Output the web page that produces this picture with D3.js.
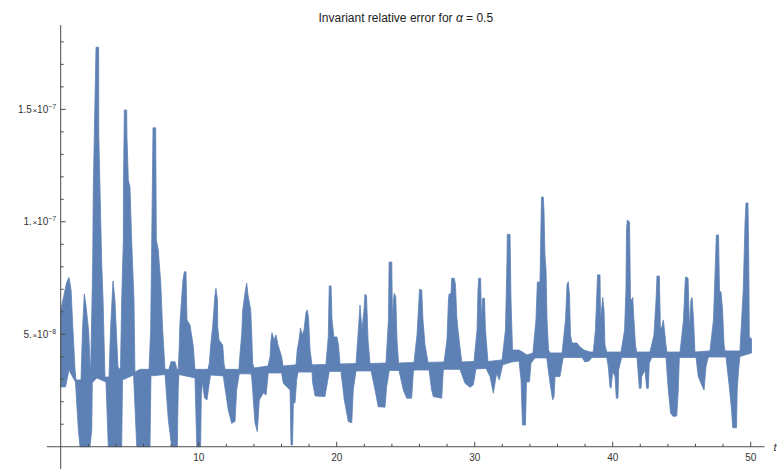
<!DOCTYPE html>
<html>
<head>
<meta charset="utf-8">
<script src="https://cdn.jsdelivr.net/npm/d3@7"></script>
<style>
  body { margin: 0; background: #fff; }
  text { font-family: "Liberation Sans", Arial, sans-serif; }
</style>
</head>
<body>
<svg id="chart" width="777" height="469"></svg>
<script>
// values in units of 1e-8: [t, value]
const unit = 1e-8;

// top edge of the oscillating trace
const upperEdge = [
  [0,6.08],[0.24,6.75],[0.42,7.28],[0.60,7.53],[0.75,6.97],[0.89,5.19],[1.04,3.41],[1.11,2.97],
  [1.47,2.97],[1.58,5.19],[1.71,6.79],[1.83,6.30],[2.03,5.10],[2.16,3.10],
  [2.27,6.52],[2.32,8.17],[2.36,11.41],[2.43,13.64],[2.51,16.18],[2.56,17.76],[2.75,17.76],[2.76,13.81],
  [2.85,11.41],[2.90,10.08],[2.97,8.17],[3.07,6.52],[3.14,4.75],[3.21,3.10],
  [3.50,3.10],[3.61,5.19],[3.79,7.37],[3.93,6.52],[4.15,3.55],
  [4.33,3.41],[4.42,6.52],[4.54,9.19],[4.55,11.55],[4.59,13.81],[4.61,14.97],[4.78,14.97],[4.80,13.81],
  [4.90,11.86],[5.02,11.55],[5.14,9.19],[5.31,6.52],[5.38,3.32],
  [5.75,3.44],[6.40,3.44],[6.52,5.19],[6.56,7.28],[6.59,8.75],[6.69,14.18],[6.88,14.18],[6.93,9.19],
  [7.07,8.75],[7.25,7.28],[7.39,5.19],[7.56,3.44],
  [7.85,3.44],[7.99,3.78],[8.28,3.78],[8.43,3.44],
  [8.52,3.44],[8.59,4.45],[8.64,5.49],[8.86,7.41],[8.96,7.78],[9.08,7.78],[9.15,5.64],[9.37,5.41],
  [9.61,4.45],[9.73,3.44],
  [10.67,3.44],[10.77,3.71],[10.87,4.52],[11.01,5.34],[11.18,6.75],[11.25,7.04],[11.36,6.52],[11.38,5.34],
  [11.47,4.75],[11.74,4.52],[11.83,3.71],[11.91,3.44],
  [12.92,3.44],[12.94,3.71],[13.12,5.04],[13.19,6.08],[13.39,6.97],[13.48,7.27],[13.57,6.75],[13.77,6.08],
  [13.84,5.04],[13.91,3.71],[14.01,3.50],
  [15.02,3.59],[15.17,4.00],[15.24,4.75],[15.31,5.07],[15.46,4.75],[15.60,4.97],[15.75,4.52],[16.01,4.00],[16.11,3.59],
  [17.05,3.64],[17.14,4.30],[17.27,4.75],[17.38,5.28],[17.49,4.97],[17.63,5.19],[17.78,5.99],[17.87,6.08],
  [17.96,5.72],[18.07,4.30],[18.21,3.64],
  [19.22,3.66],[19.39,4.89],[19.46,7.15],[19.59,7.15],[19.66,5.64],[19.80,4.88],[20.02,4.88],[20.13,4.52],[20.24,3.68],
  [21.40,3.70],[21.62,5.64],[21.69,6.30],[21.83,5.19],[21.98,6.08],[22.05,6.79],[22.16,6.70],[22.27,4.75],[22.41,3.70],
  [23.57,3.72],[23.75,5.64],[23.80,8.21],[23.99,8.21],[24.04,5.64],[24.12,6.52],[24.17,6.82],[24.28,6.67],
  [24.37,4.75],[24.48,3.72],
  [25.60,3.75],[25.82,4.97],[25.96,6.52],[26.00,7.00],[26.16,6.97],[26.25,5.64],[26.40,4.52],[26.62,3.75],
  [27.78,3.77],[27.99,4.75],[28.10,6.52],[28.14,6.79],[28.28,6.79],[28.33,7.49],[28.52,7.49],[28.61,7.19],
  [28.70,5.78],[28.79,5.19],[29.06,3.77],
  [29.95,3.79],[30.17,5.19],[30.24,6.97],[30.29,7.49],[30.43,7.49],[30.49,5.64],[30.58,6.60],[30.71,6.60],
  [30.78,5.19],[30.96,3.79],
  [31.98,3.86],[32.23,5.19],[32.34,8.30],[32.36,9.44],[32.56,9.44],[32.63,6.52],[32.74,4.30],
  [33.21,4.30],[33.57,4.17],[33.79,4.08],[34.22,4.17],
  [34.44,5.64],[34.54,7.32],[34.73,7.32],[34.84,11.10],[34.97,11.10],[35.02,10.52],[35.09,8.52],[35.17,7.86],
  [35.24,5.64],[35.35,4.30],[35.46,4.17],
  [36.33,4.17],[36.58,5.64],[36.69,7.19],[36.78,7.34],[36.87,6.75],[36.94,4.97],[37.05,4.61],
  [37.41,4.61],[37.63,4.44],[37.92,4.30],[38.36,4.21],
  [38.59,4.21],[38.75,5.19],[38.86,6.97],[38.90,7.64],[39.08,7.64],[39.12,5.64],[39.19,6.08],[39.28,6.64],
  [39.37,6.08],[39.44,4.52],[39.57,4.21],
  [40.60,4.21],[40.86,5.19],[40.96,6.97],[41.00,9.64],[41.06,10.08],[41.22,9.99],[41.29,6.52],[41.36,6.52],
  [41.45,6.64],[41.54,5.64],[41.65,4.52],[41.74,4.21],
  [42.70,4.21],[42.99,4.97],[43.14,6.52],[43.21,7.59],[43.38,7.59],[43.46,5.19],[43.57,5.34],[43.67,5.64],
  [43.75,5.19],[43.86,4.52],[43.93,4.21],
  [44.88,4.21],[45.13,5.64],[45.24,7.19],[45.28,7.55],[45.46,7.50],[45.57,5.19],[45.67,6.52],[45.75,6.64],
  [45.86,5.64],[45.96,4.21],
  [47.05,4.26],[47.30,5.64],[47.45,8.30],[47.51,9.41],[47.67,9.41],[47.74,6.89],[47.85,6.89],[47.96,6.08],
  [48.07,4.52],[48.14,4.26],
  [49.22,4.26],[49.46,6.97],[49.59,9.95],[49.66,10.84],[49.80,10.84],[49.86,8.30],[49.90,4.89],[50.06,4.79]
];

// bottom edge of the oscillating trace
const lowerEdge = [
  [0,2.66],[0.35,2.66],[0.60,3.41],[1.07,2.88],[1.28,0.75],[1.40,0],[2.12,0],[2.25,0.75],[2.29,2.84],
  [2.61,3.06],[3.28,2.88],[3.45,0],[4.42,0],[4.48,2.97],[5.28,3.19],[5.51,0],[6.47,0],[6.54,3.15],
  [7.56,3.21],[7.80,1.19],[8.04,0],[8.45,0],[8.52,2.66],[8.57,3.21],[9.73,3.06],[9.86,0],[10.14,0],
  [10.19,2.30],[10.28,2.88],[10.42,2.17],[10.60,2.08],[10.75,2.75],[10.86,3.19],
  [11.78,3.15],[12.14,1.64],[12.39,1.04],[12.63,1.12],[12.75,2.52],[12.94,3.24],
  [13.79,3.24],[13.84,3.10],[14.08,1.06],[14.25,0.67],[14.39,2.08],[14.68,2.39],[14.88,2.30],[15.04,3.28],
  [16.01,3.28],[16.13,2.82],[16.38,2.67],[16.62,2.52],[16.69,0.08],[16.80,0.08],[16.86,1.95],[16.98,1.95],
  [17.10,2.97],[17.20,3.32],
  [18.21,3.32],[18.26,2.84],[18.43,2.26],[19.15,2.23],[19.32,2.84],[19.46,3.35],
  [20.31,3.35],[20.55,2.08],[20.84,1.12],[21.09,1.07],[21.20,2.52],[21.40,3.37],
  [22.49,3.37],[22.78,2.52],[23.01,1.78],[23.50,1.76],[23.62,2.67],[23.81,3.39],
  [24.51,3.39],[24.83,2.52],[25.07,2.16],[25.43,2.16],[25.55,3.28],[25.60,3.41],
  [26.69,3.41],[26.88,2.52],[27.00,2.23],[27.61,2.16],[27.72,3.37],[27.78,3.44],
  [28.93,3.44],[29.30,2.82],[29.66,2.64],[29.90,2.75],[30.09,3.46],
  [30.82,3.48],[31.11,3.12],[31.35,2.38],[31.59,3.27],[31.78,2.97],[32.03,3.64],
  [32.70,3.77],[33.21,3.81],[33.36,2.97],[33.46,0.97],[33.68,0.97],[33.75,2.88],[33.97,2.89],[34.08,3.72],[34.37,3.95],
  [35.22,3.95],[35.46,2.82],[35.65,2.08],[35.75,2.23],[35.82,3.12],[36.18,3.12],[36.38,3.86],[36.43,3.97],
  [37.78,3.97],[37.99,3.77],[38.28,3.81],[38.50,3.97],
  [39.57,3.97],[39.68,3.56],[39.80,2.67],[39.88,2.60],[40.00,3.34],[40.17,3.12],[40.26,2.16],[40.38,2.16],
  [40.43,3.41],[40.65,3.97],
  [41.76,3.97],[41.93,2.60],[42.05,2.60],[42.10,3.12],[42.34,3.41],[42.46,2.60],[42.58,2.60],[42.65,3.71],[42.83,3.97],
  [43.86,3.97],[44.03,2.52],[44.20,1.49],[44.39,1.34],[44.64,1.37],[44.75,2.52],[44.83,3.97],
  [46.04,3.97],[46.20,3.12],[46.45,2.75],[46.62,2.52],[46.76,3.56],[46.93,3.99],
  [48.21,3.99],[48.45,2.66],[48.61,1.64],[48.70,0.84],[48.97,0.84],[49.02,2.52],[49.12,3.41],[49.22,4.01],
  [50.06,4.17]
];

const xMajorTicks = [10, 20, 30, 40, 50];
const xMinorTicks = d3.range(2, 51, 2).filter(d => d % 10 !== 0);
const yMajorTicks = [5e-8, 1e-7, 1.5e-7];
const yMantissa = ["5.", "1.", "1.5"];
const yExponent = ["\u22128", "\u22127", "\u22127"];
const yMinorTicks = d3.range(1, 19).filter(d => d % 5 !== 0).map(d => d * unit);

const svg = d3.select("#chart");
const axisColor = "#4d4d4d";
const lineColor = "#5e81b5";

const x = d3.scaleLinear().domain([-1, 51]).range([46.9, 764.5]);
const y = d3.scaleLinear().domain([-0.99e-8, 1.875e-7]).range([469, 25]);

// trace: outline of the dense oscillation band
const outline = upperEdge.concat(lowerEdge.slice().reverse());
const line = d3.line()
  .x(d => x(d[0]))
  .y(d => y(d[1] * unit));

svg.append("path")
  .attr("d", line(outline) + "Z")
  .attr("fill", lineColor)
  .attr("stroke", lineColor)
  .attr("stroke-width", 0.8)
  .attr("stroke-linejoin", "round");

// axes, Mathematica style
svg.append("line")
  .attr("x1", x(-1)).attr("x2", x(51))
  .attr("y1", y(0)).attr("y2", y(0))
  .attr("stroke", axisColor).attr("stroke-width", 1);

svg.append("line")
  .attr("x1", x(0)).attr("x2", x(0))
  .attr("y1", y.range()[0]).attr("y2", y.range()[1])
  .attr("stroke", axisColor).attr("stroke-width", 1);

svg.selectAll(".xminor")
  .data(xMinorTicks)
  .join("line")
  .attr("x1", d => x(d)).attr("x2", d => x(d))
  .attr("y1", y(0)).attr("y2", y(0) - 3)
  .attr("stroke", axisColor);

svg.selectAll(".xmajor")
  .data(xMajorTicks)
  .join("line")
  .attr("x1", d => x(d)).attr("x2", d => x(d))
  .attr("y1", y(0)).attr("y2", y(0) - 5)
  .attr("stroke", axisColor);

svg.selectAll(".xlabel")
  .data(xMajorTicks)
  .join("text")
  .attr("x", d => x(d))
  .attr("y", y(0) + 14)
  .attr("text-anchor", "middle")
  .attr("font-size", 10)
  .attr("fill", "#333")
  .text(d => d);

svg.selectAll(".yminor")
  .data(yMinorTicks)
  .join("line")
  .attr("x1", x(0)).attr("x2", x(0) + 3)
  .attr("y1", d => y(d)).attr("y2", d => y(d))
  .attr("stroke", axisColor);

svg.selectAll(".ymajor")
  .data(yMajorTicks)
  .join("line")
  .attr("x1", x(0)).attr("x2", x(0) + 5)
  .attr("y1", d => y(d)).attr("y2", d => y(d))
  .attr("stroke", axisColor);

const ylab = svg.selectAll(".ylabel")
  .data(yMajorTicks)
  .join("text")
  .attr("x", x(0) - 4.5)
  .attr("y", d => y(d) + 3.5)
  .attr("text-anchor", "end")
  .attr("font-size", 10)
  .attr("fill", "#333");

ylab.append("tspan").text((d, i) => yMantissa[i]);
ylab.append("tspan").attr("font-size", 8).attr("dx", 0.5).text("\u00d7");
ylab.append("tspan").text("10");
ylab.append("tspan").attr("font-size", 7).attr("dy", -4).text((d, i) => yExponent[i]);

// axis name, cut by the right edge as in the original
svg.append("text")
  .attr("x", 773.5)
  .attr("y", y(0) + 4)
  .attr("font-size", 11)
  .attr("font-style", "italic")
  .attr("fill", "#333")
  .text("t");

const title = svg.append("text")
  .attr("x", 405.8)
  .attr("y", 22)
  .attr("text-anchor", "middle")
  .attr("font-size", 12)
  .attr("fill", "#222");
title.append("tspan").text("Invariant relative error for ");
title.append("tspan").attr("font-style", "italic").text("\u03b1");
title.append("tspan").text(" = 0.5");
</script>
</body>
</html>
